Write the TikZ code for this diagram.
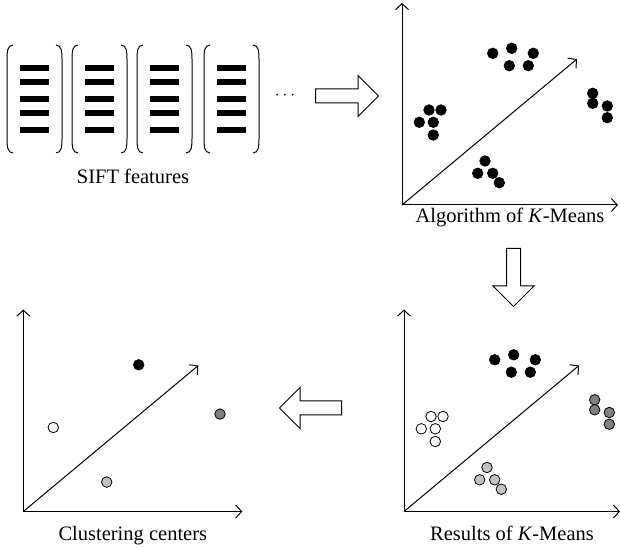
\documentclass[tikz,border=0pt]{standalone}
\usepackage{fontspec}
\setmainfont{Liberation Serif}
\usetikzlibrary{arrows.meta,shapes.arrows,positioning}

\definecolor{darkdot}{gray}{0.5}
\definecolor{lightdot}{gray}{0.76}

% the four clusters of a K-means panel, one fill style each
\newcommand{\kclusters}[4]{%
  \foreach \p [count=\i] in {(90.7,151.7),(109.7,156.7),(131.3,151.7),(107.3,139.3),(126.3,139.3)}
    \node[dot,#1] (top\i) at \p {};
  \foreach \p [count=\i] in {(27,95),(39,95),(17.3,82.7),(31.3,82.7),(31.3,70)}
    \node[dot,#2] (left\i) at \p {};
  \foreach \p [count=\i] in {(190.7,111.7),(190.7,101.7),(205.3,99),(205.3,87.3)}
    \node[dot,#3] (right\i) at \p {};
  \foreach \p [count=\i] in {(83,44),(75.7,31.7),(90.7,31.7),(97.3,22.3)}
    \node[dot,#4] (bot\i) at \p {};
}

\begin{document}
\begin{tikzpicture}[x=1pt,y=1pt,>={Straight Barb[length=6pt,width=13pt]},
    axis/.style={->,line width=1pt},
    dot/.style={circle,draw,line width=0.8pt,inner sep=0pt,minimum size=10.5pt},
    blk/.style={fill=black},
    dark/.style={fill=darkdot},
    light/.style={fill=lightdot},
    hollow/.style={fill=white},
    bigarrow/.style={single arrow,draw,line width=1pt,inner sep=0pt,inner ysep=6.5pt,
                     single arrow head extend=13.5pt},
    caption/.style={font=\fontsize{20.5}{24}\selectfont,inner sep=1pt},
    bar/.style={line width=6pt},
    paren/.style={line width=1pt}]

  \useasboundingbox (0,0) rectangle (620,548);

  % SIFT feature vectors
  \foreach \x in {7,72,137,204}{
    \draw[paren] (\x+6,503) to[out=180,in=90] (\x,489) -- (\x,409) to[out=-90,in=180] (\x+6,395);
    \draw[paren] (\x+49,503) to[out=0,in=90] (\x+55,489) -- (\x+55,409) to[out=-90,in=0] (\x+49,395);
    \foreach \y in {480,466,449,435,418}
      \draw[bar] (\x+13,\y) -- (\x+42,\y);
  }
  \node[caption] (sift) at (133,372) {SIFT features};
  \node[font=\fontsize{18}{20}\selectfont,inner sep=0pt] (more) at (285,452) {$\cdots$};

  % block arrows between the steps
  \node[bigarrow,minimum height=63pt] (step1) at (343.5,452) {};
  \node[bigarrow,minimum height=58pt,rotate=-90] (step2) at (513.5,274) {};
  \node[bigarrow,minimum height=62pt,shape border rotate=180] (step3) at (314,140) {};

  % algorithm of K-means
  \begin{scope}[shift={(402,343)},name prefix=alg-]
    \coordinate (o) at (0,0);
    \draw[axis] (o) -- (0,202);
    \draw[axis] (o) -- node[caption,below=2pt] (cap) {Algorithm of \textit{K}-Means} (216,0);
    \draw[axis] (o) -- (175,146);
    \kclusters{blk}{blk}{blk}{blk}
  \end{scope}

  % results of K-means
  \begin{scope}[shift={(404,36.5)},name prefix=res-]
    \coordinate (o) at (0,0);
    \draw[axis] (o) -- (0,202);
    \draw[axis] (o) -- node[caption,below=13pt] (cap) {Results of \textit{K}-Means} (216,0);
    \draw[axis] (o) -- (175,146);
    \kclusters{blk}{hollow}{dark}{light}
  \end{scope}

  % clustering centers
  \begin{scope}[shift={(23.3,36.5)},name prefix=ctr-]
    \coordinate (o) at (0,0);
    \draw[axis] (o) -- (0,202);
    \draw[axis] (o) -- node[caption,below=13pt] (cap) {Clustering centers} (219,0);
    \draw[axis] (o) -- (175,146);
    \node[dot,blk] (c1) at (115.4,146.7) {};
    \node[dot,hollow] (c2) at (30,84) {};
    \node[dot,dark] (c3) at (196.7,97.4) {};
    \node[dot,light] (c4) at (83.4,29.4) {};
  \end{scope}
\end{tikzpicture}
\end{document}
